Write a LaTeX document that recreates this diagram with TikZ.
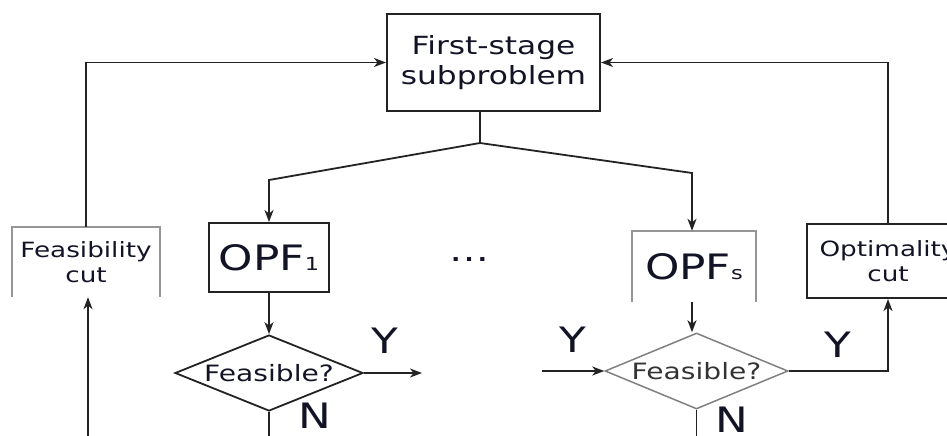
\documentclass[tikz,border=0pt]{standalone}
\usepackage{fontspec}
\setmainfont{DejaVu Sans}
\newfontfamily\wf[FakeStretch=1.25]{DejaVu Sans}
\usetikzlibrary{arrows.meta,shapes.geometric}
\definecolor{txt}{RGB}{18,20,38}
\definecolor{ln}{RGB}{35,35,35}
\definecolor{lgray}{RGB}{150,150,150}
\tikzset{
  every node/.style={text=txt},
  conn/.style={draw=ln,line width=1.8pt},
  arr/.style={conn,-{Stealth[length=12pt,width=9pt,inset=3.5pt]}},
  boxs/.style={draw=ln,line width=2pt,rectangle,inner sep=0pt},
  openbox/.style={rectangle,inner sep=0pt},
  dia/.style={diamond,draw=ln,line width=1.8pt,inner sep=0pt},
  lab/.style={font=\wf\fontsize{35}{35}\selectfont,inner sep=0pt},
}
\begin{document}
\begin{tikzpicture}[x=1pt,y=-1pt]
\useasboundingbox (0,0) rectangle (947,436);
\clip (0,0) rectangle (947,436);
% nodes
\node[boxs,minimum width=213pt,minimum height=97pt,align=center,
      font=\wf\fontsize{25}{30}\selectfont] (fs) at (493.5,62.5) {First-stage\\subproblem};
\node[openbox,minimum width=147pt,minimum height=70pt,align=center,
      font=\wf\fontsize{21}{25}\selectfont] (fc) at (86,262) {Feasibility\\cut};
\draw[lgray,line width=2pt] (fc.south west) -- (fc.north west) -- (fc.north east) -- (fc.south east);
\node[boxs,minimum width=120pt,minimum height=69pt,
      font=\wf\fontsize{35}{35}\selectfont] (o1) at (269,257.5) {OPF{\fontsize{18}{18}\selectfont 1}};
\node[openbox,minimum width=124pt,minimum height=71pt,
      font=\wf\fontsize{35}{35}\selectfont] (os) at (694,266.5) {OPF{\fontsize{18}{18}\selectfont s}};
\draw[lgray,line width=2pt] (os.south west) -- (os.north west) -- (os.north east) -- (os.south east);
\node[boxs,minimum width=162pt,minimum height=74pt,align=center,
      font=\wf\fontsize{21}{25}\selectfont] (opt) at (888,261) {Optimality\\cut};
\node[font=\wf\fontsize{32}{32}\selectfont,anchor=base,inner sep=0pt] (dots) at (469,261) {…};
\node[dia,minimum width=188pt,minimum height=76pt,shape aspect=2.47,
      font=\wf\fontsize{22.5}{22.5}\selectfont] (d1) at (269,373) {Feasible?};
\node[dia,draw=gray,line width=1.5pt,minimum width=183pt,minimum height=76pt,shape aspect=2.4,
      text=black!80,font=\wf\fontsize{22.5}{22.5}\selectfont] (d2) at (696.5,371) {Feasible?};
% labels
\node[lab] (y1) at (385,341) {Y};
\node[lab] (n1) at (315,416) {N};
\node[lab] (y2) at (573,340) {Y};
\node[lab] (y3) at (838,345) {Y};
\node[lab] (n2) at (732,420) {N};
% coordinates
\coordinate (sp) at (480,143);
\coordinate (k1) at (269,180);
\coordinate (k2) at (692,173);
\coordinate (y1e) at (422,373);
\coordinate (y2s) at (542,371);
\coordinate (b1) at (269,445);
\coordinate (b2) at (700,445);
\coordinate (b0) at (88,445);
% connectors
\draw[conn] (fs.south -| sp) -- (sp);
\draw[arr] (sp) -- (k1) -- (o1.north);
\draw[arr] (sp) -- (k2) -- (k2 |- os.north);
\draw[arr] (fc.north) |- (fs.west);
\draw[arr] (opt.north) |- (fs.east);
\draw[arr] (o1.south) -- (d1.north);
\draw[arr] (d1.east) -- (y1e);
\draw[conn] (d1.south) -- (b1);
\draw[arr] (b0) -- (b0 |- fc.south);
\draw[arr] (y2s) -- (d2.west);
\draw[arr] (os.south -| k2) -- (d2.north -| k2);
\draw[arr] (d2.east) -| (opt.south);
\draw[conn] (d2.south) -- (d2.south |- b2);
\end{tikzpicture}
\end{document}
